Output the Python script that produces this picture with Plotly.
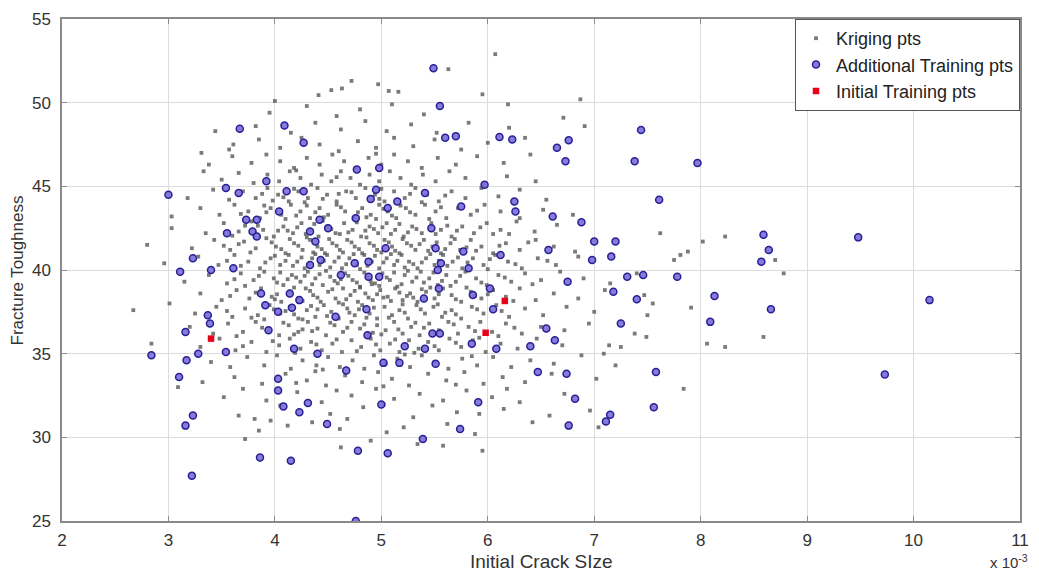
import plotly.graph_objects as go

# ---- Data (x in units of 1e-3) ----
kriging_pts = [
    (4.62,29.4),(5.34,29.6),(5.95,29.2),(4.90,29.8),(3.72,29.9),(5.58,29.5),
    (3.85,30.4),(4.61,30.5),(5.05,30.3),(5.62,30.8),(7.04,30.6),(4.35,30.9),(5.88,30.2),(4.12,30.7),(6.42,30.9),(5.21,30.6),
    (3.66,31.3),(3.81,31.1),(3.96,31.0),(6.96,31.6),(4.52,31.4),(4.83,31.8),(5.30,31.2),(5.71,31.5),(6.15,31.7),(4.05,31.9),(5.48,31.9),(6.58,31.3),(4.68,31.1),(5.92,31.4),
    (3.52,32.4),(3.92,32.2),(4.21,32.7),(4.44,32.1),(4.72,32.5),(4.95,32.9),(5.12,32.3),(5.36,32.6),(5.58,32.2),(5.80,32.8),(6.04,32.4),(6.30,32.1),(6.72,32.6),(7.84,32.9),(4.58,32.8),(5.02,32.0),(3.70,32.9),(6.18,32.9),
    (3.32,33.3),(3.09,33.0),(3.62,33.6),(3.88,33.2),(4.10,33.8),(4.30,33.4),(4.48,33.1),(4.66,33.7),(4.82,33.3),(4.97,33.9),(5.10,33.5),(5.26,33.1),(5.44,33.8),(5.61,33.4),(5.78,33.9),(5.96,33.2),(6.14,33.6),(6.35,33.3),(6.60,33.8),(7.02,33.5),(4.38,33.95),(5.02,33.05),(5.70,33.15),(4.20,33.25),
    (3.40,34.5),(3.58,34.2),(3.74,34.8),(3.90,34.3),(4.02,34.9),(4.15,34.1),(4.26,34.6),(4.39,34.3),(4.50,34.8),(4.61,34.2),(4.73,34.6),(4.84,34.1),(4.93,34.9),(5.04,34.4),(5.15,34.7),(5.27,34.2),(5.38,34.9),(5.50,34.5),(5.63,34.1),(5.76,34.7),(5.90,34.3),(6.05,34.8),(6.22,34.2),(6.40,34.6),(6.62,34.4),(6.88,34.9),(7.20,34.3),(4.45,34.05),(5.22,34.95),(5.85,34.85),
    (2.84,35.6),(3.30,35.4),(3.48,35.9),(3.63,35.2),(3.78,35.7),(3.92,35.1),(4.04,35.5),(4.14,35.9),(4.24,35.3),(4.34,35.7),(4.44,35.2),(4.54,35.6),(4.63,35.1),(4.72,35.8),(4.81,35.4),(4.90,35.9),(4.99,35.2),(5.08,35.6),(5.17,35.1),(5.26,35.8),(5.35,35.3),(5.44,35.7),(5.54,35.2),(5.64,35.9),(5.75,35.4),(5.86,35.8),(5.98,35.1),(6.12,35.6),(6.28,35.3),(6.46,35.9),(6.70,35.5),(7.09,35.0),(7.25,35.4),(7.14,35.5),(8.06,35.6),(8.23,35.4),
    (3.20,36.6),(3.42,36.2),(3.56,36.8),(3.70,36.3),(3.82,36.9),(3.94,36.4),(4.04,36.1),(4.13,36.7),(4.22,36.3),(4.31,36.9),(4.40,36.5),(4.48,36.1),(4.56,36.7),(4.64,36.3),(4.72,36.9),(4.80,36.5),(4.88,36.1),(4.96,36.7),(5.04,36.4),(5.12,36.9),(5.20,36.2),(5.28,36.6),(5.36,36.1),(5.45,36.8),(5.54,36.4),(5.63,36.9),(5.72,36.2),(5.82,36.6),(5.93,36.9),(6.04,36.3),(6.17,36.8),(6.32,36.2),(6.50,36.6),(6.72,36.4),(6.95,36.8),(7.38,36.2),(7.49,36.0),(8.59,36.0),(4.26,36.45),(4.92,36.25),(5.40,36.55),(6.10,36.05),
    (2.67,37.6),(3.25,37.4),(3.45,37.8),(3.60,37.2),(3.72,37.7),(3.84,37.3),(3.95,37.9),(4.05,37.4),(4.14,37.8),(4.22,37.1),(4.30,37.6),(4.38,37.2),(4.46,37.9),(4.53,37.5),(4.60,37.1),(4.68,37.7),(4.75,37.3),(4.82,37.9),(4.89,37.4),(4.96,37.1),(5.03,37.8),(5.10,37.3),(5.17,37.6),(5.25,37.1),(5.33,37.9),(5.41,37.4),(5.49,37.8),(5.57,37.2),(5.66,37.6),(5.75,37.1),(5.85,37.8),(5.96,37.4),(6.08,37.9),(6.20,37.2),(6.35,37.7),(6.52,37.3),(6.74,37.8),(7.00,37.5),(7.50,37.3),(7.91,37.75),(4.10,37.55),(4.70,37.45),(5.20,37.95),(5.60,37.45),(3.90,37.05),(4.40,37.65),
    (3.01,38.0),(3.30,38.6),(3.50,38.2),(3.64,38.8),(3.76,38.3),(3.87,38.9),(3.97,38.4),(4.06,38.1),(4.14,38.7),(4.22,38.3),(4.29,38.9),(4.36,38.5),(4.43,38.1),(4.50,38.7),(4.57,38.3),(4.64,38.9),(4.71,38.5),(4.78,38.1),(4.85,38.6),(4.92,38.2),(4.99,38.8),(5.06,38.4),(5.13,38.9),(5.20,38.2),(5.27,38.6),(5.34,38.1),(5.42,38.7),(5.50,38.3),(5.58,38.9),(5.66,38.5),(5.75,38.1),(5.84,38.7),(5.94,38.3),(6.05,38.8),(6.17,38.4),(6.30,38.9),(6.45,38.2),(6.62,38.6),(6.85,38.3),(7.10,38.8),(7.47,38.5),(7.55,38.0),(4.02,38.55),(4.60,38.05),(5.02,38.35),(5.46,38.95),(5.88,38.45),(4.33,38.75),(4.80,38.95),(5.30,38.35),
    (3.15,39.3),(3.38,39.7),(3.55,39.2),(3.68,39.8),(3.80,39.4),(3.90,39.9),(3.99,39.5),(4.08,39.1),(4.16,39.7),(4.24,39.3),(4.31,39.9),(4.38,39.5),(4.45,39.1),(4.52,39.6),(4.59,39.2),(4.66,39.8),(4.73,39.4),(4.80,39.0),(4.87,39.6),(4.94,39.2),(5.01,39.8),(5.08,39.4),(5.15,39.0),(5.22,39.7),(5.29,39.3),(5.37,39.9),(5.45,39.5),(5.53,39.1),(5.61,39.7),(5.70,39.3),(5.79,39.9),(5.89,39.5),(5.99,39.1),(6.10,39.7),(6.22,39.3),(6.35,39.8),(6.50,39.4),(6.68,39.9),(6.90,39.5),(7.15,39.2),(7.40,39.8),(8.78,39.8),(4.20,39.55),(4.62,39.45),(4.98,39.05),(5.25,39.95),(5.65,39.05),(4.05,39.85),(4.48,39.95),(4.90,39.35),(5.40,39.25),(3.72,39.05),
    (2.96,40.4),(3.28,40.8),(3.47,40.3),(3.62,40.9),(3.75,40.5),(3.86,40.1),(3.96,40.7),(4.05,40.3),(4.13,40.9),(4.21,40.5),(4.28,40.1),(4.35,40.7),(4.42,40.3),(4.49,40.9),(4.56,40.5),(4.63,40.1),(4.70,40.7),(4.77,40.3),(4.84,40.9),(4.91,40.5),(4.98,40.1),(5.05,40.7),(5.12,40.3),(5.19,40.9),(5.26,40.5),(5.34,40.1),(5.42,40.7),(5.50,40.3),(5.58,40.9),(5.67,40.5),(5.76,40.1),(5.86,40.7),(5.96,40.3),(6.07,40.9),(6.19,40.5),(6.32,40.1),(6.47,40.7),(6.64,40.3),(6.85,40.8),(7.75,40.6),(7.81,40.9),(8.70,40.6),(4.10,40.55),(4.52,40.15),(4.94,40.85),(5.30,40.35),(5.72,40.75),(4.38,40.95),(4.80,40.05),(5.15,40.55),(3.55,40.55),(6.00,40.05),
    (2.80,41.5),(3.22,41.3),(3.43,41.8),(3.58,41.2),(3.71,41.7),(3.82,41.3),(3.92,41.9),(4.01,41.4),(4.10,41.0),(4.18,41.6),(4.26,41.2),(4.33,41.8),(4.40,41.4),(4.47,41.0),(4.54,41.6),(4.61,41.2),(4.68,41.8),(4.75,41.4),(4.82,41.0),(4.89,41.6),(4.96,41.2),(5.03,41.8),(5.10,41.4),(5.17,41.0),(5.24,41.6),(5.32,41.2),(5.40,41.8),(5.48,41.4),(5.56,41.0),(5.65,41.6),(5.74,41.2),(5.84,41.8),(5.94,41.4),(6.05,41.0),(6.17,41.6),(6.30,41.2),(6.45,41.8),(6.62,41.4),(6.82,41.1),(7.88,41.1),(8.02,41.7),(4.14,41.85),(4.58,41.45),(5.00,41.05),(5.36,41.55),(5.80,41.35),(4.36,41.05),(4.86,41.95),(5.20,41.85),(3.66,41.55),
    (3.03,42.5),(3.35,42.2),(3.52,42.8),(3.66,42.3),(3.78,42.9),(3.89,42.4),(3.99,42.0),(4.08,42.6),(4.17,42.2),(4.25,42.8),(4.33,42.4),(4.41,42.0),(4.49,42.6),(4.57,42.2),(4.65,42.8),(4.73,42.4),(4.81,42.0),(4.89,42.6),(4.97,42.2),(5.05,42.8),(5.13,42.4),(5.21,42.0),(5.29,42.6),(5.38,42.2),(5.47,42.8),(5.56,42.4),(5.66,42.0),(5.76,42.6),(5.87,42.2),(5.99,42.8),(6.12,42.4),(6.27,42.9),(6.44,42.3),(6.65,42.7),(7.62,42.2),(8.23,42.0),(4.03,42.35),(4.45,42.95),(4.85,42.35),(5.25,42.25),(5.62,42.65),(4.21,42.55),(4.61,42.15),(5.01,42.55),(3.72,42.65),(6.05,42.15),
    (3.03,43.2),(3.30,43.7),(3.48,43.3),(3.62,43.9),(3.75,43.5),(3.86,43.1),(3.96,43.7),(4.06,43.3),(4.15,43.9),(4.24,43.5),(4.33,43.1),(4.42,43.7),(4.50,43.3),(4.58,43.9),(4.66,43.5),(4.74,43.1),(4.82,43.7),(4.90,43.3),(4.98,43.9),(5.06,43.5),(5.14,43.1),(5.23,43.7),(5.32,43.3),(5.41,43.9),(5.51,43.5),(5.61,43.1),(5.72,43.7),(5.84,43.3),(5.97,43.9),(6.12,43.5),(6.30,43.1),(6.52,43.6),(6.80,43.3),(4.38,43.45),(4.78,43.45),(5.18,43.85),(4.10,43.05),(5.45,43.05),(3.90,43.85),(4.95,43.05),
    (3.18,44.3),(3.42,44.8),(3.57,44.2),(3.70,44.7),(3.82,44.3),(3.93,44.9),(4.03,44.5),(4.13,44.1),(4.22,44.7),(4.31,44.3),(4.40,44.9),(4.49,44.5),(4.58,44.1),(4.67,44.7),(4.76,44.3),(4.85,44.9),(4.94,44.5),(5.03,44.1),(5.12,44.7),(5.22,44.3),(5.32,44.9),(5.43,44.5),(5.54,44.1),(5.66,44.7),(5.79,44.3),(5.94,44.9),(6.10,44.4),(6.30,44.8),(6.55,44.2),(4.60,44.55),(5.00,44.85),(4.28,44.05),(3.98,44.15),(5.38,44.05),
    (3.33,45.9),(3.50,45.4),(3.66,45.8),(3.80,45.2),(3.93,45.7),(4.04,45.3),(4.14,45.9),(4.24,45.5),(4.34,45.1),(4.44,45.7),(4.53,45.3),(4.62,45.9),(4.71,45.5),(4.80,45.1),(4.89,45.7),(4.98,45.3),(5.08,45.9),(5.18,45.5),(5.28,45.1),(5.39,45.7),(5.51,45.3),(5.64,45.9),(5.79,45.5),(5.96,45.1),(6.18,45.6),(6.45,45.3),(4.58,45.55),(4.20,45.95),
    (3.38,46.3),(3.60,46.8),(3.78,46.4),(3.92,46.9),(4.05,46.5),(4.18,46.1),(4.30,46.7),(4.42,46.3),(4.54,46.9),(4.65,46.5),(4.76,46.1),(4.88,46.7),(5.00,46.3),(5.12,46.9),(5.25,46.5),(5.38,46.1),(5.53,46.7),(5.70,46.3),(5.90,46.8),(6.15,46.4),(6.40,46.9),(4.95,46.95),
    (3.31,47.0),(3.57,47.2),(3.61,47.5),(3.85,47.8),(4.05,47.3),(4.25,47.9),(4.42,47.5),(4.60,47.1),(4.78,47.7),(4.95,47.3),(5.12,47.9),(5.30,47.4),(5.50,47.8),(5.75,47.2),(6.00,47.6),(6.35,47.9),
    (3.44,48.3),(3.82,48.6),(4.15,48.2),(4.38,48.8),(4.62,48.4),(4.85,48.9),(5.05,48.3),(5.28,48.7),(5.52,48.2),(5.82,48.8),(6.91,48.6),(6.20,48.5),
    (3.95,49.4),(4.30,49.8),(4.58,49.2),(4.80,49.6),(5.10,49.9),(5.40,49.3),(6.71,49.1),(6.19,49.9),
    (4.00,50.1),(4.41,50.45),(4.53,50.75),(4.63,50.85),(5.07,50.7),(5.16,50.65),(5.95,50.5),(6.87,50.2),
    (4.97,51.1),(5.63,52.0),(6.07,52.9),(4.72,51.3),
]

# denser core of the kriging cloud
kriging_core_pts = [
    (3.70,35.45),(3.98,35.75),(4.19,35.05),(4.39,35.55),(4.58,35.85),(4.77,35.15),(4.95,35.55),(5.13,35.85),(5.31,35.05),(5.50,35.45),(5.70,35.65),(5.92,35.95),
    (3.64,36.05),(3.88,36.55),(4.08,36.85),(4.18,36.15),(4.35,36.35),(4.52,36.85),(4.68,36.55),(4.84,36.75),(5.00,36.15),(5.16,36.45),(5.32,36.85),(5.50,36.25),(5.68,36.75),(5.88,36.35),(6.25,36.55),
    (3.55,37.55),(3.78,37.15),(3.99,37.65),(4.18,37.35),(4.34,37.85),(4.49,37.25),(4.64,37.95),(4.79,37.65),(4.93,37.75),(5.07,37.15),(5.22,37.45),(5.37,37.65),(5.53,37.95),(5.70,37.35),(5.90,37.65),(6.13,37.55),(4.26,37.05),(4.86,37.15),
    (3.58,38.45),(3.82,38.65),(4.00,38.25),(4.18,38.95),(4.26,38.15),(4.40,38.35),(4.54,38.85),(4.67,38.25),(4.75,38.75),(4.88,38.35),(4.96,38.55),(5.09,38.15),(5.17,38.65),(5.24,38.45),(5.38,38.85),(5.54,38.55),(5.70,38.25),(5.80,38.95),(6.00,38.55),(6.24,38.15),
    (3.62,39.45),(3.85,39.65),(4.02,39.25),(4.12,39.45),(4.28,39.65),(4.35,39.15),(4.42,39.75),(4.56,39.35),(4.69,39.65),(4.77,39.25),(4.84,39.85),(4.91,39.15),(5.05,39.55),(5.12,39.85),(5.19,39.15),(5.33,39.55),(5.49,39.85),(5.57,39.35),(5.74,39.65),(5.94,39.25),(6.16,39.55),(6.42,39.15),
    (3.68,40.25),(3.91,40.45),(4.00,40.85),(4.17,40.25),(4.25,40.75),(4.32,40.35),(4.46,40.55),(4.60,40.75),(4.67,40.35),(4.74,40.95),(4.87,40.25),(5.02,40.45),(5.09,40.95),(5.22,40.15),(5.38,40.45),(5.46,40.95),(5.54,40.55),(5.62,40.25),(5.81,40.45),(6.02,40.65),(6.26,40.35),(6.56,40.55),
    (3.52,41.45),(3.77,41.05),(3.97,41.65),(4.06,41.25),(4.22,41.45),(4.30,41.95),(4.44,41.25),(4.51,41.85),(4.64,41.05),(4.72,41.65),(4.79,41.25),(4.93,41.45),(5.07,41.65),(5.13,41.15),(5.28,41.45),(5.44,41.15),(5.52,41.65),(5.60,41.25),(5.69,41.85),(5.89,41.15),(6.11,41.45),(6.38,41.65),
    (3.60,42.05),(3.84,42.65),(4.12,42.35),(4.29,42.15),(4.37,42.75),(4.53,42.45),(4.69,42.25),(4.77,42.85),(4.93,42.45),(5.09,42.15),(5.17,42.75),(5.33,42.45),(5.51,42.15),(5.71,42.35),(5.93,42.55),(6.20,42.15),
    (3.68,43.35),(3.92,43.45),(4.20,43.25),(4.46,43.15),(4.62,43.75),(4.86,43.15),(5.02,43.65),(5.27,43.45),(5.56,43.75),(5.90,43.55),(4.30,43.85),(5.10,43.25),
    (3.88,44.55),(4.18,44.85),(4.45,44.25),(4.72,44.65),(4.98,44.25),(5.27,44.55),(5.60,44.45),(4.08,44.35),
]

kriging_x = [p[0] for p in kriging_pts + kriging_core_pts]
kriging_y = [p[1] for p in kriging_pts + kriging_core_pts]

additional_pts = [
    (3.67,48.44),(4.09,48.64),(3.00,44.5),(3.54,44.9),(3.66,44.6),(3.92,45.3),(4.11,44.7),(4.04,43.5),
    (3.73,43.0),(3.83,43.0),(3.55,42.2),(3.79,42.3),(3.83,42.0),(3.23,40.7),(3.61,40.1),(3.11,39.9),(3.40,40.0),
    (5.49,52.05),(5.55,49.8),(5.60,47.9),(5.70,48.0),(6.11,47.95),(6.23,47.8),(4.27,47.6),(4.77,46.0),(4.98,46.1),
    (4.27,44.7),(4.95,44.8),(4.90,44.25),(5.06,43.7),(5.15,44.1),(5.41,44.6),(5.97,45.1),(6.25,44.1),(6.26,43.5),
    (5.75,43.8),(4.76,43.1),(4.42,43.0),(4.50,42.5),(4.33,42.3),(4.38,41.7),(5.47,42.5),(5.51,41.3),(5.04,41.3),
    (5.77,41.1),(6.12,40.9),(4.43,40.6),(4.33,40.3),(4.75,40.4),(4.88,40.5),(5.56,40.4),(5.53,40.0),(5.82,40.1),
    (7.44,48.37),(6.76,47.75),(6.65,47.3),(6.73,46.5),(7.38,46.5),(7.97,46.4),(7.61,44.2),(6.61,43.2),(6.88,42.85),
    (7.00,41.7),(7.20,41.7),(6.57,41.2),(6.98,40.6),(7.16,40.8),(8.59,42.1),(8.64,41.2),(8.57,40.5),(7.31,39.6),
    (7.46,39.7),(7.78,39.6),(9.48,41.95),
    (3.37,37.3),(3.39,36.8),(3.16,36.3),(2.84,34.9),(3.28,35.0),(3.54,35.1),(3.17,34.6),(3.10,33.6),(3.23,31.3),
    (3.16,30.7),(3.22,27.7),(3.86,28.8),(4.15,28.6),(3.87,38.6),(3.91,37.9),(4.03,37.5),(4.14,38.6),(4.23,38.2),
    (4.16,37.75),(3.94,36.4),(4.18,35.3),(4.03,33.5),(4.03,32.8),(4.08,31.85),(4.23,31.5),
    (4.86,37.65),(4.57,37.2),(4.87,36.1),(4.40,35.0),(4.67,34.0),(5.02,34.45),(5.17,34.45),(5.51,34.4),(5.22,35.45),
    (5.41,35.3),(5.48,36.2),(5.55,36.2),(5.40,38.3),(5.54,38.9),(5.86,38.5),(6.02,38.9),(6.05,37.65),(5.85,35.6),
    (6.08,35.3),(6.40,35.45),(6.47,33.9),(4.31,32.05),(4.49,30.8),(5.00,31.96),(5.91,32.1),(5.74,30.5),(5.39,29.9),
    (4.78,29.2),(5.06,29.05),(4.76,25.0),(4.88,39.6),(4.98,39.6),(4.62,39.7),
    (6.75,39.3),(7.18,38.7),(7.40,38.25),(7.25,36.8),(6.55,36.5),(6.63,35.8),(8.13,38.45),(8.09,36.9),(8.66,37.65),
    (6.74,33.8),(7.58,33.9),(6.82,32.3),(7.56,31.8),(7.15,31.35),(7.11,30.95),(6.76,30.7),(10.15,38.2),(9.73,33.75),
]
additional_x = [p[0] for p in additional_pts]
additional_y = [p[1] for p in additional_pts]

initial_x = [3.40, 5.98, 6.16]
initial_y = [35.9, 36.25, 38.15]

x_ticks = [2, 3, 4, 5, 6, 7, 8, 9, 10, 11]
y_ticks = [25, 30, 35, 40, 45, 50, 55]

FONT = "Liberation Sans, Arial, Helvetica, sans-serif"
TXT = "#333333"

fig = go.Figure()
fig.add_trace(go.Scatter(
    x=kriging_x, y=kriging_y, mode="markers", name="Kriging pts",
    marker=dict(symbol="square", size=3.8, color="rgba(85,85,85,0.78)", line=dict(width=0)),
))
fig.add_trace(go.Scatter(
    x=additional_x, y=additional_y, mode="markers", name="Additional Training pts",
    marker=dict(symbol="circle", size=7, color="rgba(120,110,215,0.9)",
                line=dict(color="#2a1f95", width=1.5)),
))
fig.add_trace(go.Scatter(
    x=initial_x, y=initial_y, mode="markers", name="Initial Training pts",
    marker=dict(symbol="square", size=6.5, color="#e8001a", line=dict(width=0)),
))

axis_common = dict(
    showgrid=True, gridcolor="#dcdcdc", gridwidth=1,
    showline=True, linecolor="#8a8a8a", linewidth=1.5, mirror="ticks",
    ticks="inside", ticklen=5, tickcolor="#8a8a8a",
    tickfont=dict(family=FONT, size=17, color=TXT),
    zeroline=False,
)

fig.update_layout(
    width=1039, height=574,
    margin=dict(l=62, r=10, t=13, b=53),
    paper_bgcolor="white", plot_bgcolor="white",
    font=dict(family=FONT, size=17, color=TXT),
    showlegend=True,
    legend=dict(
        x=1.0, y=1.0, xanchor="right", yanchor="top",
        bgcolor="white", bordercolor="#555555", borderwidth=1,
        font=dict(family=FONT, size=18, color="#222222"),
        itemsizing="trace", tracegroupgap=0,
    ),
    xaxis=dict(range=[2, 11], tickvals=x_ticks, ticktext=[str(v) for v in x_ticks],
               ticklabelstandoff=3, **axis_common),
    yaxis=dict(range=[25, 55], tickvals=y_ticks, ticktext=[str(v) for v in y_ticks],
               ticklabelstandoff=6, **axis_common),
    annotations=[
        dict(text="Initial Crack SIze", x=0.5, y=-0.081, xref="paper", yref="paper",
             xanchor="center", yanchor="middle", showarrow=False,
             font=dict(family=FONT, size=19, color=TXT)),
        dict(text="Fracture Toughness", x=-0.0465, y=0.5, xref="paper", yref="paper",
             xanchor="center", yanchor="middle", textangle=-90, showarrow=False,
             font=dict(family=FONT, size=17, color=TXT)),
        dict(text="x 10<sup>-3</sup>", x=1.0, y=-0.058, xref="paper", yref="paper",
             xanchor="right", yanchor="top", xshift=10, showarrow=False,
             font=dict(family=FONT, size=15, color=TXT)),
    ],
)

fig.write_html("out.html")
